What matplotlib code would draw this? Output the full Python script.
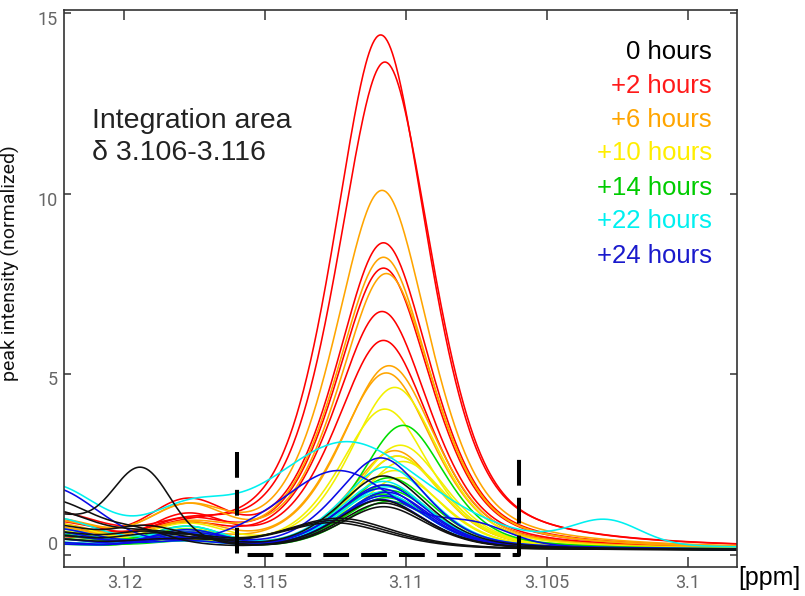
import numpy as np
import matplotlib
matplotlib.use("Agg")
import matplotlib.pyplot as plt
from matplotlib.transforms import ScaledTranslation

# chemical shift axis (ppm, plotted high -> low)
ppm = np.linspace(3.1225, 3.0980, 800)

# Each spectrum: main resonance height / centre / half width,
# plus small features: rise at the left edge, hump near 3.118,
# narrow bump near 3.1194 and a weak signal further upfield.
black_peak   = [2.05, 1.38, 1.30, 1.20, 0.88, 0.82, 0.76]
black_center = [3.1108, 3.1109, 3.1108, 3.1108, 3.1124, 3.1125, 3.1126]
black_width  = [0.0019, 0.0019, 0.0019, 0.0019, 0.0024, 0.0024, 0.0024]
black_edge   = [1.1, 1.4, 1.0, 0.7, 0.5, 0.4, 0.3]
black_hump   = [0.3, 0.1, 0.2, 0.3, 0.2, 0.3, 0.2]
black_bump   = [0.2, 0.3, 2.0, 0.4, 0.3, 0.2, 0.1]
black_far    = [0, 0, 0, 0, 0, 0, 0]

red_peak   = [14.25, 13.5, 8.5, 7.8, 6.6, 5.8]
red_center = [3.1109, 3.11075, 3.1108, 3.1108, 3.11085, 3.1108]
red_width  = [0.0020, 0.0020, 0.0020, 0.0020, 0.0020, 0.0020]
red_edge   = [0.4, 0.9, 0.7, 0.5, 0.8, 0.3]
red_hump   = [0.3, 0.4, 1.1, 0.6, 0.5, 0.8]
red_bump   = [0, 0, 0, 0, 0, 0]
red_far    = [0, 0, 0, 0, 0, 0]

orange_peak   = [9.95, 8.1, 7.65, 5.1, 4.9, 2.75, 2.6]
orange_center = [3.11085, 3.1108, 3.1107, 3.1106, 3.1107, 3.1104, 3.1103]
orange_width  = [0.0020, 0.0020, 0.0020, 0.0020, 0.0020, 0.0019, 0.0019]
orange_edge   = [0.7, 0.5, 0.8, 0.6, 0.7, 0.5, 0.4]
orange_hump   = [0.9, 0.5, 1.0, 0.3, 0.6, 0.4, 0.2]
orange_bump   = [0, 0, 0, 0, 0, 0, 0]
orange_far    = [0, 0, 0, 0, 0, 0, 0]

yellow_peak   = [4.5, 3.9, 2.9, 2.6, 2.45, 2.2, 2.0]
yellow_center = [3.1104, 3.11075, 3.1102, 3.1103, 3.1101, 3.1104, 3.1102]
yellow_width  = [0.0019, 0.0019, 0.0019, 0.0019, 0.0019, 0.0019, 0.0019]
yellow_edge   = [0.5, 0.7, 0.4, 0.6, 0.5, 0.3, 0.5]
yellow_hump   = [0.6, 0.3, 0.5, 0.2, 0.4, 0.3, 0.5]
yellow_bump   = [0, 0, 0, 0, 0, 0, 0]
yellow_far    = [0, 0, 0, 0, 0, 0, 0]

green_peak   = [3.45, 2.0, 1.8, 1.65, 1.55, 1.45, 1.35]
green_center = [3.1101, 3.1106, 3.1107, 3.1106, 3.1108, 3.1107, 3.1106]
green_width  = [0.0018, 0.0019, 0.0019, 0.0019, 0.0019, 0.0019, 0.0019]
green_edge   = [0.3, 0.5, 0.2, 0.4, 0.3, 0.15, 0.45]
green_hump   = [0.4, 0.5, 0.3, 0.6, 0.2, 0.4, 0.3]
green_bump   = [0, 0, 0, 0, 0, 0, 0]
green_far    = [0, 0, 0, 0, 0, 0, 0]

cyan_peak   = [3.0, 2.3, 1.9, 1.75, 1.6, 1.5]
cyan_center = [3.1121, 3.1107, 3.1108, 3.1107, 3.1109, 3.1108]
cyan_width  = [0.0035, 0.0019, 0.0019, 0.0019, 0.0019, 0.0019]
cyan_edge   = [1.7, 0.9, 0.2, 0.6, 0.15, 0.5]
cyan_hump   = [0.7, 0.4, 0.5, 0.3, 0.6, 0.2]
cyan_bump   = [0, 0, 0, 0, 0, 0]
cyan_far    = [0.65, 0, 0, 0, 0, 0]

blue_peak   = [2.55, 2.2, 1.8, 1.7, 1.6, 1.5, 1.4]
blue_center = [3.1109, 3.1124, 3.1108, 3.1109, 3.1107, 3.1108, 3.1109]
blue_width  = [0.0019, 0.0026, 0.0019, 0.0019, 0.0019, 0.0019, 0.0019]
blue_edge   = [0.4, 1.7, 0.6, 0.15, 0.5, 0.3, 0.2]
blue_hump   = [0.4, 0.0, 0.3, 0.5, 0.2, 0.3, 0.4]
blue_bump   = [0, 0, 0, 0, 0, 0, 0]
blue_far    = [0, 0.45, 0, 0, 0, 0, 0]

far_center = {"cyan": 3.1029, "blue": 3.1075}

legend_labels = ["0 hours", "+2 hours", "+6 hours", "+10 hours",
                 "+14 hours", "+22 hours", "+24 hours"]
legend_colors = ["#000000", "#ff1a1a", "#ffa500", "#ffee00",
                 "#00cc00", "#00f0f0", "#1a1acc"]

groups = {
    "red":    ("#ff0000", red_peak, red_center, red_width, red_edge, red_hump, red_bump, red_far),
    "orange": ("#ffa500", orange_peak, orange_center, orange_width, orange_edge, orange_hump, orange_bump, orange_far),
    "yellow": ("#f2f000", yellow_peak, yellow_center, yellow_width, yellow_edge, yellow_hump, yellow_bump, yellow_far),
    "green":  ("#00dd00", green_peak, green_center, green_width, green_edge, green_hump, green_bump, green_far),
    "cyan":   ("#00f0f0", cyan_peak, cyan_center, cyan_width, cyan_edge, cyan_hump, cyan_bump, cyan_far),
    "blue":   ("#0a0ae6", blue_peak, blue_center, blue_width, blue_edge, blue_hump, blue_bump, blue_far),
    "black":  ("#111111", black_peak, black_center, black_width, black_edge, black_hump, black_bump, black_far),
}


def pseudo_voigt(x, c, hw, eta=0.5):
    lor = 1.0 / (1.0 + ((x - c) / hw) ** 2)
    gau = np.exp(-np.log(2) * ((x - c) / hw) ** 2)
    return eta * lor + (1 - eta) * gau


def gauss(x, c, s):
    return np.exp(-0.5 * ((x - c) / s) ** 2)


def spectrum(h, c, w, edge, hump, bump, far, far_c):
    y = 0.14 + h * pseudo_voigt(ppm, c, w)
    y = y + edge * gauss(ppm, 3.1228, 0.0018)
    y = y + hump * gauss(ppm, 3.1178, 0.0013)
    y = y + bump * gauss(ppm, 3.1194, 0.0010)
    y = y + far * gauss(ppm, far_c, 0.0012)
    return y


W, H = 805, 596
fig = plt.figure(figsize=(W / 100, H / 100), dpi=100)
ax = fig.add_axes([64.3 / W, 1 - 566.7 / H, (737.3 - 64.3) / W, (566.7 - 10) / H])

for name, (col, pk, cen, wid, edg, hmp, bmp, far) in groups.items():
    fc = far_center.get(name, 3.103)
    for i in range(len(pk)):
        ax.plot(ppm, spectrum(pk[i], cen[i], wid[i], edg[i], hmp[i], bmp[i], far[i], fc),
                color=col, lw=1.15, solid_capstyle="round")

# integration window
ax.plot([3.116, 3.116, 3.106, 3.106], [2.85, 0.0, 0.0, 2.85], color="black",
        lw=2.9, dashes=(6.4, 3.0), dash_capstyle="butt", solid_joinstyle="miter")

ax.set_xlim(3.12213, 3.09824)
ax.set_ylim(-0.32, 15.08)
ax.set_xticks([3.12, 3.115, 3.11, 3.105, 3.1])
ax.set_xticklabels(["3.12", "3.115", "3.11", "3.105", "3.1"])
ax.set_yticks([0, 5, 10, 15])
ax.set_yticklabels(["0", "5", "10", "15"])

ax.tick_params(axis="x", direction="in", length=7.5, width=1.1, top=True, bottom=True,
               labelsize=13, labelcolor="#666666", pad=5, color="#333333")
ax.tick_params(axis="y", direction="in", length=5, width=1.1, left=True, right=True,
               labelsize=13, labelcolor="#666666", pad=4.5, color="#333333")
for lab in ax.get_xticklabels() + ax.get_yticklabels():
    lab.set_family(["Roboto", "DejaVu Sans"])

# tick label nudges
shifts = {"0": 12, "5": -4, "10": -5, "15": -5}
for lab in ax.get_yticklabels():
    dy = shifts.get(lab.get_text(), 0)
    lab.set_transform(lab.get_transform() + ScaledTranslation(0, dy / 100, fig.dpi_scale_trans))

for sp in ax.spines.values():
    sp.set_linewidth(1.2)
    sp.set_color("#333333")

ax.set_ylabel("peak intensity (normalized)", fontsize=14, family=["Roboto", "DejaVu Sans"],
              color="#111111")
ax.yaxis.set_label_coords(-0.066, 0.545)


def px(x, y):
    return x / W, 1 - y / H


sans = ["Liberation Sans", "DejaVu Sans"]
fig.text(*px(92, 128), "Integration area", fontsize=20.5, family=sans, color="#222222",
         va="baseline", ha="left")
fig.text(*px(92, 160), "\u03b4 3.106-3.116", fontsize=20.5, family=sans, color="#222222",
         va="baseline", ha="left")

baselines = [59, 93, 127, 160, 195, 228, 263]
for lab, col, yb in zip(legend_labels, legend_colors, baselines):
    fig.text(*px(712, yb), lab, fontsize=18.5, family=sans, color=col,
             va="baseline", ha="right")

fig.text(*px(738, 566), "[ppm]", fontsize=18, family=sans, color="black",
         va="top", ha="left")

fig.savefig("out.png", dpi=100)
